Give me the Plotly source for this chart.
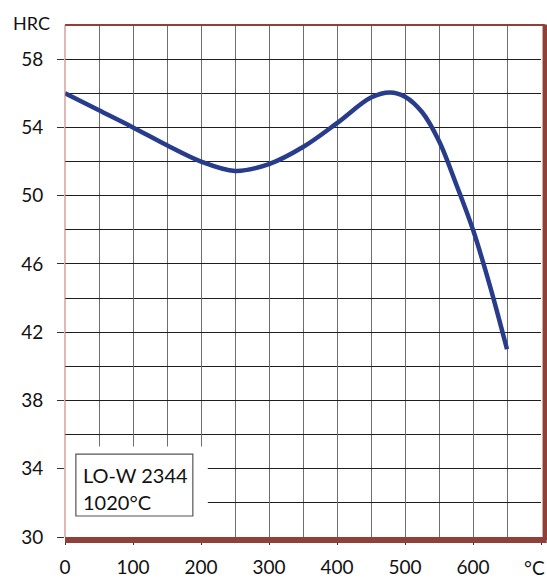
import plotly.graph_objects as go

# Data
temperature_c = [0, 50, 100, 150, 200, 250, 300, 350, 400, 450, 478, 500, 525, 550, 575, 600, 625, 650]
hardness_hrc = [56.0, 55.0, 54.0, 52.95, 52.0, 51.45, 51.85, 52.85, 54.25, 55.75, 56.05, 55.8, 54.9, 53.2, 50.7, 48.0, 44.7, 41.0]

x_tick_vals = [0, 100, 200, 300, 400, 500, 600]
x_unit = "°C"
y_tick_vals = [30, 34, 38, 42, 46, 50, 54, 58]
y_unit = "HRC"

label_lines = ["LO-W 2344", "1020°C"]

FONT = "Lato"
BROWN = "#8e4039"
HGRID = "#1e1e1e"
VGRID = "#6e6e6e"

fig = go.Figure()
fig.add_trace(go.Scatter(
    x=temperature_c, y=hardness_hrc, mode="lines",
    line=dict(color="#283c8c", width=4.5, shape="spline", smoothing=1.0),
    hoverinfo="skip", showlegend=False, cliponaxis=False,
))

fig.update_layout(
    width=547, height=578,
    margin=dict(l=65, r=6, t=25, b=41, autoexpand=False),
    paper_bgcolor="white", plot_bgcolor="white",
    font=dict(family=FONT, size=19, color="#111"),
    showlegend=False,
    xaxis=dict(
        range=[0, 700], tickvals=x_tick_vals + [700],
        ticktext=[str(v) for v in x_tick_vals] + [""],
        showgrid=True, gridcolor=VGRID, gridwidth=1.4,
        ticks="outside", ticklen=7, tickcolor="#333", tickwidth=1.3,
        ticklabelstandoff=6, automargin=False,
        minor=dict(dtick=50, tick0=0, showgrid=True, gridcolor=VGRID, gridwidth=1.4, ticks=""),
        zeroline=False, showline=False, fixedrange=True,
    ),
    yaxis=dict(
        range=[30, 60], tickvals=y_tick_vals,
        showgrid=True, gridcolor=HGRID, gridwidth=1.3,
        ticks="outside", ticklen=7, tickcolor="#333", tickwidth=1.3,
        ticklabelstandoff=10, automargin=False,
        minor=dict(dtick=2, tick0=30, showgrid=True, gridcolor=HGRID, gridwidth=1.3, ticks=""),
        zeroline=False, showline=False, fixedrange=True,
    ),
)

shapes = [
    # white area hiding grid behind the label box
    dict(type="rect", xref="x", yref="y", x0=0, x1=210, y0=30, y1=35.3,
         fillcolor="white", line=dict(width=0), layer="above"),
    # label box border
    dict(type="rect", xref="x", yref="y", x0=16, x1=188, y0=31.23, y1=34.86,
         fillcolor="white", line=dict(color="#555", width=1.2), layer="above"),
    # frame lines
    dict(type="line", xref="paper", yref="paper", x0=0, x1=1.008, y0=1, y1=1,
         line=dict(color=BROWN, width=2), layer="above"),
    dict(type="line", xref="paper", yref="paper", x0=0, x1=0, y0=0, y1=1,
         line=dict(color="#c0706a", width=1), layer="above"),
    dict(type="line", xref="paper", yref="paper", x0=1.008, x1=1.008, y0=-0.006, y1=1.001,
         line=dict(color=BROWN, width=4.5), layer="above"),
    dict(type="line", xref="paper", yref="paper", x0=0, x1=1.012, y0=-0.006, y1=-0.006,
         line=dict(color=BROWN, width=6), layer="above"),
]
fig.update_layout(shapes=shapes)

annotations = [
    dict(text=y_unit, xref="paper", yref="paper", x=-0.113, y=1.003,
         xanchor="left", yanchor="middle", showarrow=False, font=dict(size=18)),
    dict(text=x_unit, xref="paper", yref="paper", x=1.012, y=-0.06,
         xanchor="right", yanchor="middle", showarrow=False, font=dict(size=19)),
    dict(text=label_lines[0], xref="x", yref="y", x=24, y=30 + (538 - 476) / 17.07,
         xanchor="left", yanchor="middle", showarrow=False, font=dict(size=20)),
    dict(text=label_lines[1], xref="x", yref="y", x=24, y=30 + (538 - 503) / 17.07,
         xanchor="left", yanchor="middle", showarrow=False, font=dict(size=20)),
]
fig.update_layout(annotations=annotations)

fig.write_html(
    "out.html",
    config={"displayModeBar": False},
    post_script="document.body.style.margin='0';document.body.style.overflow='hidden';",
)
